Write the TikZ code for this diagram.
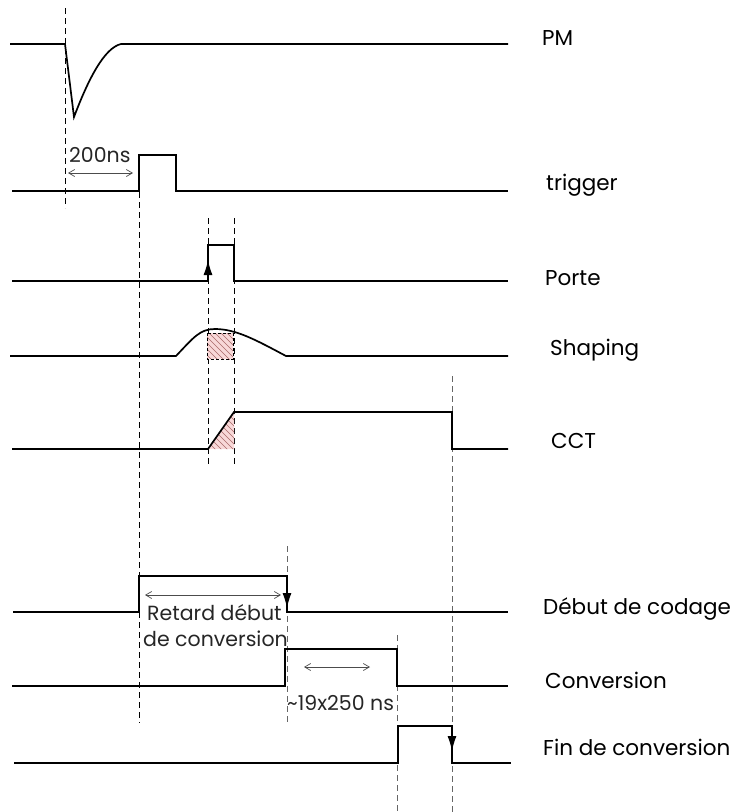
\documentclass[tikz,border=0pt]{standalone}
\usepackage{fontspec}
\setmainfont{Poppins}
\usetikzlibrary{arrows.meta}
\definecolor{hatchfill}{HTML}{F8D8D8}
\definecolor{hatchline}{HTML}{A86A6A}
\begin{document}
\begin{tikzpicture}[x=1pt,y=-1pt,
  sig/.style={line width=1.7pt, line join=miter},
  guide/.style={line width=0.8pt, dash pattern=on 6pt off 4pt},
  guidegray/.style={guide, draw=black!60},
  lbl/.style={anchor=base west, inner sep=0pt, font=\fontsize{21.5}{24}\selectfont},
  ann/.style={anchor=base west, inner sep=0pt, font=\fontsize{20.5}{22}\selectfont, text=black!85},
  dimarrow/.style={line width=0.7pt, draw=black!70, {Straight Barb[length=6pt,width=7pt]}-{Straight Barb[length=6pt,width=7pt]}},
  edgetip/.style={-{Latex[length=15pt,width=9pt]}, line width=1.2pt},
]
\useasboundingbox (0,0) rectangle (741,812);

% ---------- guide (dashed) lines ----------
\draw[guide] (65,8) -- (65,208);
\draw[guide] (139,192) -- (139,723);
\draw[guide] (208,218) -- (208,467);
\draw[guide] (234,218) -- (234,467);
\draw[guidegray] (452,376) -- (452,812);
\draw[guidegray] (287,546) -- (287,723);
\draw[guidegray] (397,635) -- (397,812);

% ---------- hatched areas ----------
\fill[hatchfill] (207,333) rectangle (233,359);
\begin{scope}
  \clip (207,333) rectangle (233,359);
  \foreach \k in {-40,-34,...,40}
    \draw[hatchline, line width=0.5pt] (200+\k,326) -- (240+\k,366);
\end{scope}
\draw[line width=0.7pt, dash pattern=on 3pt off 2pt] (207,333) rectangle (233,359);

\fill[hatchfill] (208,449) -- (234,412) -- (234,449) -- cycle;
\begin{scope}
  \clip (208,449) -- (234,412) -- (234,449) -- cycle;
  \foreach \k in {-40,-34,...,40}
    \draw[hatchline, line width=0.5pt] (200+\k,400) -- (250+\k,450);
\end{scope}

% ---------- signals ----------
% PM
\draw[sig] (10,44) -- (65,44) -- (74,117)
  .. controls (88,80) and (104,48) .. (121,44) -- (508,44);
% trigger
\draw[sig] (12,191) -- (139,191) -- (139,155) -- (176,155) -- (176,191) -- (508,191);
% Porte
\draw[sig] (12,281) -- (208,281) -- (208,245) -- (234,245) -- (234,281) -- (508,281);
\draw[edgetip] (208,281) -- (208,260);
% Shaping
\draw[sig] (10,356) -- (176,356)
  .. controls (194,337) and (200,329) .. (215,329)
  .. controls (236,329) and (256,340) .. (286,356) -- (508,356);
% CCT
\draw[sig] (12,449) -- (208,449) -- (234,412) -- (452,412) -- (452,449) -- (508,449);
% Debut de codage
\draw[sig] (13,612) -- (139,612) -- (139,576) -- (287,576) -- (287,612) -- (508,612);
\draw[edgetip] (287,576) -- (287,608);
% Conversion
\draw[sig] (12,686) -- (285,686) -- (285,649) -- (397,649) -- (397,686) -- (508,686);
% Fin de conversion
\draw[sig] (14,763) -- (398,763) -- (398,726) -- (452,726) -- (452,763) -- (511,763);
\draw[edgetip] (452,726) -- (452,751);

% ---------- dimension arrows ----------
\coordinate (a1) at (68,173);
\coordinate (a2) at (133,173);
\draw[dimarrow] (a1) -- (a2);
\coordinate (b1) at (145,595);
\coordinate (b2) at (281,595);
\draw[dimarrow] (b1) -- (b2);
\coordinate (c1) at (304,667);
\coordinate (c2) at (370,667);
\draw[dimarrow] (c1) -- (c2);

% ---------- annotations ----------
\node[ann] (t200) at (69,162) {200ns};
\node[ann] (tret1) at (147,620) {Retard début};
\node[ann] (tret2) at (143,646) {de conversion};
\node[ann] (t19) at (287,710) {\char"7E 19x250 ns};

% ---------- signal labels ----------
\node[lbl] (lPM)  at (542,45)  {PM};
\node[lbl] (ltrg) at (546,190) {trigger};
\node[lbl] (lpor) at (545,285) {Porte};
\node[lbl] (lsha) at (550,355) {Shaping};
\node[lbl] (lcct) at (551,448) {CCT};
\node[lbl] (ldeb) at (543,614) {Début de codage};
\node[lbl] (lcon) at (545,688) {Conversion};
\node[lbl] (lfin) at (543,755) {Fin de conversion};
\end{tikzpicture}
\end{document}
